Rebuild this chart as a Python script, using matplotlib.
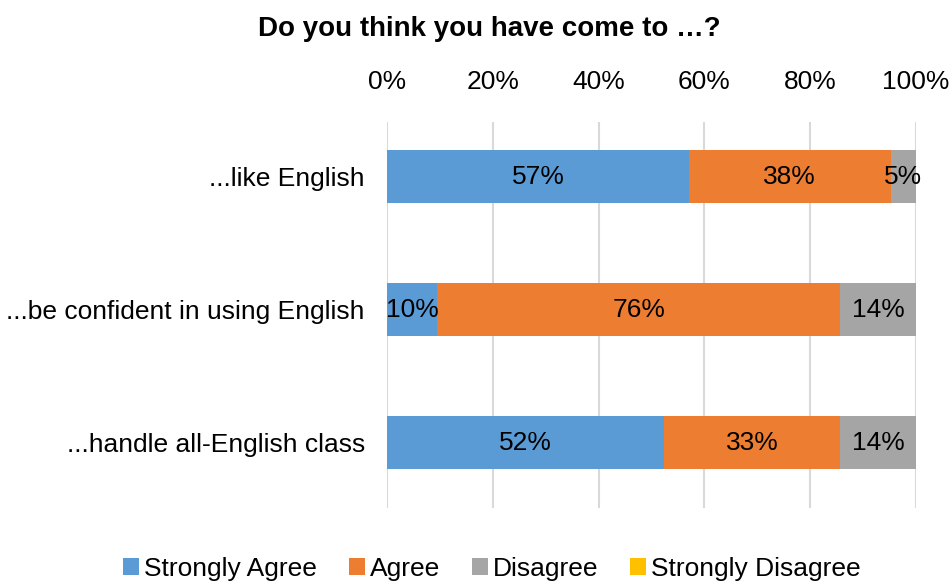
import matplotlib
matplotlib.use("Agg")
import matplotlib.pyplot as plt
import numpy as np

plt.rcParams['font.family'] = ['Liberation Sans', 'DejaVu Sans']

categories = ["...like English", "...be confident in using English", "...handle all-English class"]
series_names = ["Strongly Agree", "Agree", "Disagree", "Strongly Disagree"]
strongly_agree = [57.1, 9.5, 52.4]
agree = [38.1, 76.2, 33.3]
disagree = [4.8, 14.3, 14.3]
strongly_disagree = [0.0, 0.0, 0.0]
colors = ["#5B9BD5", "#ED7D31", "#A5A5A5", "#FFC000"]
xticks = [0, 20, 40, 60, 80, 100]
xtick_labels = ["0%", "20%", "40%", "60%", "80%", "100%"]
title = "Do you think you have come to …?"

fig = plt.figure(figsize=(9.5, 5.82), dpi=100)
ax = fig.add_axes([387/950, 1 - 508/582, (916-387)/950, (508-122)/582])

y = np.arange(len(categories))
left = np.zeros(len(categories))
all_series = [strongly_agree, agree, disagree, strongly_disagree]
for name, vals, c in zip(series_names, all_series, colors):
    vals = np.array(vals)
    ax.barh(y, vals, left=left, height=0.4, color=c, label=name, zorder=3)
    for yi, l, v in zip(y, left, vals):
        if v > 0:
            ax.text(l + v/2, yi, f"{v:.0f}%", ha='center', va='center',
                    fontsize=19, color='black', zorder=4)
    left += vals

ax.set_xlim(0, 100)
ax.set_ylim(2.49, -0.41)
ax.set_yticks(y)
ax.set_yticklabels(categories, fontsize=19)
ax.set_xticks(xticks)
ax.set_xticklabels(xtick_labels, fontsize=19)
ax.xaxis.tick_top()
ax.tick_params(axis='both', length=0)
ax.tick_params(axis='y', pad=16)
ax.tick_params(axis='x', pad=20)
for s in ax.spines.values():
    s.set_visible(False)
ax.grid(axis='x', color='#D9D9D9', linewidth=1.5, zorder=0)
ax.set_axisbelow(True)

fig.text(0.5155, 1 - 29/582, title, ha='center', va='center', fontsize=20, fontweight='bold')

handles, labels = ax.get_legend_handles_labels()
fig.legend(handles, labels, loc='center', bbox_to_anchor=(0.518, 13/582), ncol=4,
           frameon=False, fontsize=19, handlelength=0.6, handleheight=0.6,
           handletextpad=0.2, columnspacing=1.2)

fig.savefig("out.png", dpi=100)
